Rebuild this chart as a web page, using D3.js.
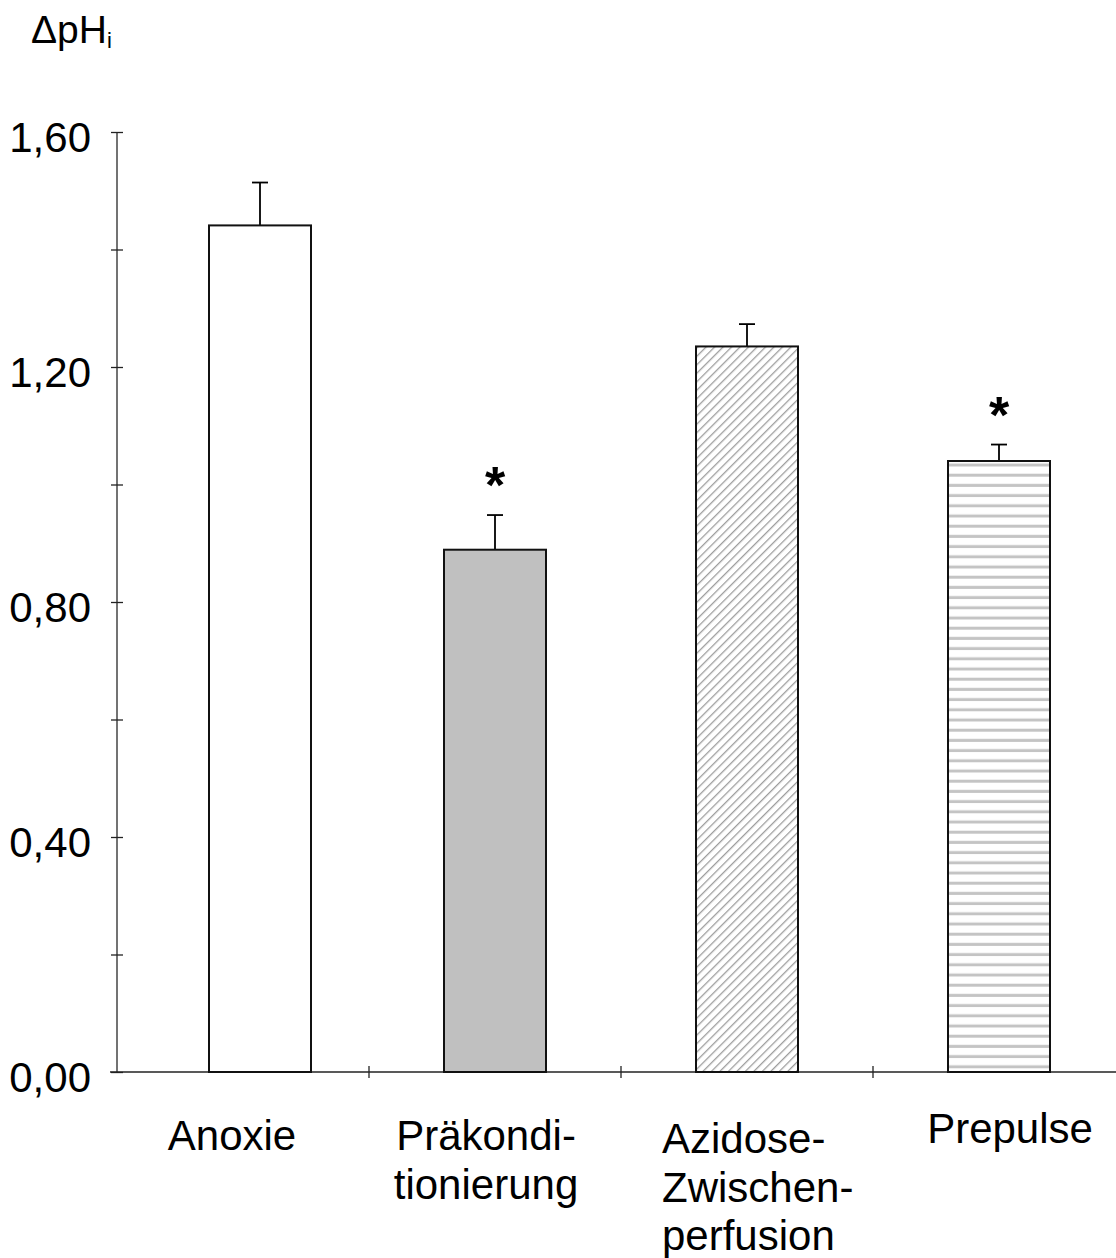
<!DOCTYPE html>
<html>
<head>
<meta charset="utf-8">
<script src="https://cdn.jsdelivr.net/npm/d3@7"></script>
<style>
  body { margin: 0; background: #fff; }
  svg { display: block; font-family: "Liberation Sans", Arial, sans-serif; }
</style>
</head>
<body>
<svg width="1116" height="1258"></svg>
<script>
// Daten
var categories = ["Anoxie", "Präkonditionierung", "Azidose-Zwischenperfusion", "Prepulse"];
var labelLines = [["Anoxie"], ["Präkondi-", "tionierung"], ["Azidose-", "Zwischen-", "perfusion"], ["Prepulse"]];
var means = [1.441, 0.889, 1.235, 1.040];
var errors = [0.073, 0.059, 0.038, 0.028];
var significant = [false, true, false, true];
var yTicks = [0, 0.2, 0.4, 0.6, 0.8, 1.0, 1.2, 1.4, 1.6];

var svg = d3.select("svg");

var x = d3.scaleBand()
          .domain(categories)
          .range([117, 1125]);
var y = d3.scaleLinear()
          .domain([0, 1.6])
          .range([1072, 132]);

var comma = d3.formatLocale({decimal: ",", thousands: ".", grouping: [3], currency: ["", "€"]}).format(".2f");

// Muster
var defs = svg.append("defs");
var diag = defs.append("pattern")
   .attr("id", "diag")
   .attr("patternUnits", "userSpaceOnUse")
   .attr("width", 6).attr("height", 6)
   .attr("patternTransform", "rotate(45)");
diag.append("rect").attr("width", 6).attr("height", 6).attr("fill", "#fff");
diag.append("line").attr("x1", 0).attr("y1", 0).attr("x2", 0).attr("y2", 6)
   .attr("stroke", "#9e9e9e").attr("stroke-width", 2.6);

var horiz = defs.append("pattern")
   .attr("id", "horiz")
   .attr("patternUnits", "userSpaceOnUse")
   .attr("width", 10).attr("height", 10.2)
   .attr("y", 1072);
horiz.append("rect").attr("width", 10).attr("height", 10.2).attr("fill", "#fff");
horiz.append("line").attr("x1", 0).attr("y1", 5).attr("x2", 10).attr("y2", 5)
   .attr("stroke", "#c4c4c4").attr("stroke-width", 3);

var fills = ["#ffffff", "#c0c0c0", "url(#diag)", "url(#horiz)"];

// Achsen
var yAxis = svg.append("g")
   .attr("transform", "translate(117,0)")
   .call(d3.axisLeft(y).tickValues(yTicks).tickSize(6).tickPadding(20)
          .tickFormat(function(d) { return Math.round(d * 10) % 4 === 0 ? comma(d) : ""; }));
yAxis.select(".domain").attr("d", "M0," + y(1.6) + "V" + y(0)).attr("stroke", "#444").attr("stroke-width", 1.5);
yAxis.selectAll(".tick line").attr("x1", -6).attr("x2", 6).attr("stroke", "#222").attr("stroke-width", 1.3);
yAxis.selectAll(".tick text")
   .attr("font-size", 42).attr("fill", "#000")
   .attr("font-family", "Liberation Sans, Arial, sans-serif")
   .attr("dy", "0.47em");

var xAxis = svg.append("g")
   .attr("transform", "translate(0," + y(0) + ")");
xAxis.append("line")
   .attr("x1", 110).attr("x2", 1116)
   .attr("stroke", "#222").attr("stroke-width", 1.5);
xAxis.selectAll(".xtick")
   .data(categories.slice(1))
   .enter().append("line")
   .attr("x1", function(d) { return x(d); })
   .attr("x2", function(d) { return x(d); })
   .attr("y1", -6).attr("y2", 6)
   .attr("stroke", "#222").attr("stroke-width", 1.3);

// Balken
var barW = 102;
var shift = [17, 0, 0, 0]; // erster Balken sitzt im Original etwas rechts
function idx(d) { return categories.indexOf(d); }
function cx(d) { return x(d) + x.bandwidth() / 2 + shift[idx(d)]; }
function barTop(d) { return y(means[idx(d)]); }
function errTop(d) { return y(means[idx(d)] + errors[idx(d)]); }

var bars = svg.append("g").selectAll("g")
   .data(categories)
   .enter().append("g");

bars.append("line") // Fehlerbalken
   .attr("x1", cx).attr("x2", cx)
   .attr("y1", barTop)
   .attr("y2", errTop)
   .attr("stroke", "#000").attr("stroke-width", 1.8);
bars.append("line")
   .attr("x1", function(d) { return cx(d) - 8; })
   .attr("x2", function(d) { return cx(d) + 8; })
   .attr("y1", errTop)
   .attr("y2", errTop)
   .attr("stroke", "#000").attr("stroke-width", 1.8);

bars.append("rect")
   .attr("x", function(d) { return cx(d) - barW / 2; })
   .attr("y", barTop)
   .attr("width", barW)
   .attr("height", function(d) { return y(0) - barTop(d); })
   .attr("fill", function(d) { return fills[idx(d)]; })
   .attr("stroke", "#111").attr("stroke-width", 2);

bars.filter(function(d) { return significant[idx(d)]; })
   .append("text")
   .attr("x", cx)
   .attr("y", function(d) { return errTop(d) - 12; })
   .attr("text-anchor", "middle")
   .attr("font-size", 52).attr("font-weight", "bold")
   .text("*");

// Kategorien
var labelAnchor = ["middle", "middle", "start", "middle"];
var labelDx = [-11, -9, -85, 11];
var labelDy = [0, 0, 3, -7];
var labels = svg.append("g").selectAll("text")
   .data(categories)
   .enter().append("text")
   .attr("font-size", 42)
   .attr("text-anchor", function(d) { return labelAnchor[idx(d)]; })
   .attr("transform", function(d) {
     var i = idx(d);
     return "translate(" + (x(d) + x.bandwidth() / 2 + labelDx[i]) + "," + (1150 + labelDy[i]) + ")";
   });
labels.selectAll("tspan")
   .data(function(d) { return labelLines[idx(d)]; })
   .enter().append("tspan")
   .attr("x", 0)
   .attr("y", function(d, j) { return j * 48.5; })
   .text(function(d) { return d; });

// Achsentitel
var title = svg.append("text")
   .attr("x", 31).attr("y", 43)
   .attr("font-size", 39);
title.append("tspan").text("\u0394pH");
title.append("tspan").attr("font-size", 22).attr("dy", 5).text("i");
</script>
</body>
</html>
